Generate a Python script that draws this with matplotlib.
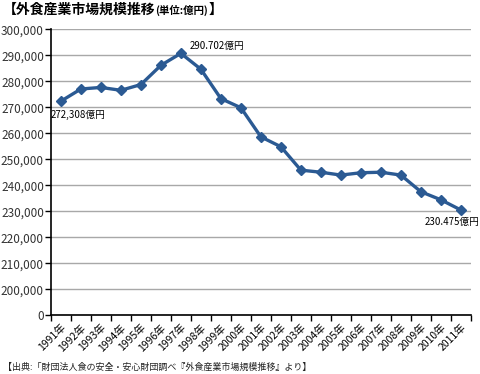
import numpy as np
import matplotlib
matplotlib.use("Agg")
import matplotlib.pyplot as plt
from matplotlib.ticker import FixedLocator

plt.rcParams['font.family'] = ['Noto Sans CJK JP', 'DejaVu Sans']

years = [str(y) + "年" for y in range(1991, 2012)]
market = [272308, 277000, 277600, 276500, 278700, 286100, 290702, 284600,
          273300, 269800, 258600, 254800, 245800, 245000, 243900, 244800,
          245000, 243900, 237500, 234400, 230475]

# y axis is broken: the lowest tick stands for 0
y_ticks = list(range(190000, 300001, 10000))
y_labels = ["0"] + ["{:,}".format(v) for v in y_ticks[1:]]

notes = [(0, "272,308億円", (-10, -14)),
         (6, "290.702億円", (9, 7)),
         (20, "230.475億円", (-36, -12))]

fig = plt.figure(figsize=(4.8, 3.74), dpi=100)
ax = fig.add_axes([0.106, 0.157, 0.875, 0.765])

x = np.arange(len(years))
ax.plot(x, market, color="#2b5a93", lw=2.4, marker="D", ms=5.5,
        markeredgecolor="#2b5a93", zorder=3)

ax.set_xlim(-0.5, len(years) - 0.5)
ax.set_ylim(190000, 300000)

ax.set_yticks(y_ticks)
ax.set_yticklabels(y_labels, fontsize=8.5, color="#333333")
ax.yaxis.grid(True, color="#a8a8a8", lw=1)
ax.set_axisbelow(True)

# ticks at category edges, labels at centers
ax.xaxis.set_major_locator(FixedLocator(np.arange(-0.5, len(years), 1)))
ax.set_xticklabels([])
ax.set_xticks(x, minor=True)
ax.set_xticklabels(years, minor=True, rotation=45, ha="right",
                   rotation_mode="anchor", fontsize=7.5)
ax.tick_params(axis="x", which="major", length=4, width=1)
ax.tick_params(axis="x", which="minor", length=0, pad=5)
ax.tick_params(axis="y", length=4, width=1, pad=1)

for s in ["top", "right"]:
    ax.spines[s].set_visible(False)
for s in ["left", "bottom"]:
    ax.spines[s].set_linewidth(1.2)

for i, txt, off in notes:
    ax.annotate(txt, (i, market[i]), xytext=off, textcoords="offset pixels",
                fontsize=7, ha="left", va="center")

# title in three pieces, the unit part smaller
t1 = fig.text(0.006, 0.974, "【外食産業市場規模推移", fontsize=10,
              fontweight="bold", va="center", ha="left")
fig.canvas.draw()
r = fig.canvas.get_renderer()
x1 = fig.transFigure.inverted().transform(t1.get_window_extent(r))[1][0]
t2 = fig.text(x1, 0.972, "(単位:億円)", fontsize=7.5, fontweight="bold",
              va="center", ha="left")
x2 = fig.transFigure.inverted().transform(t2.get_window_extent(r))[1][0]
fig.text(x2, 0.974, "】", fontsize=10, fontweight="bold",
         va="center", ha="left")

fig.text(0.006, 0.018, "【出典:「財団法人食の安全・安心財団調べ『外食産業市場規模推移』より】",
         fontsize=6.5, va="center", ha="left", color="#222222")

fig.savefig("out.png", dpi=100)
